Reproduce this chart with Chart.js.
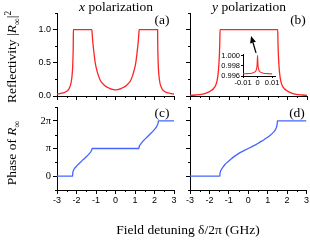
<!DOCTYPE html>
<html><head><meta charset="utf-8">
<script src="https://cdn.jsdelivr.net/npm/chart.js@4.4.0/dist/chart.umd.min.js"></script>
<style>
html,body{margin:0;padding:0;background:#fff;}
#wrap{position:relative;width:310px;height:240px;overflow:hidden;background:#fff;}
canvas{position:absolute;left:0;top:0;width:310px;height:240px;}
.t{position:absolute;font-family:"Liberation Serif","Times New Roman",serif;color:#000;white-space:nowrap;line-height:1;font-size:13.5px;}
.c{transform:translateX(-50%);}
.r{transform:translate(-50%,-50%) rotate(-90deg);}
sub,sup{font-size:70%;line-height:0;}
</style></head><body>
<div id="wrap">
<canvas id="ca" width="310" height="240"></canvas>
<canvas id="cb" width="310" height="240"></canvas>
<canvas id="cc" width="310" height="240"></canvas>
<canvas id="cd" width="310" height="240"></canvas>
<canvas id="ci" width="310" height="240"></canvas>
<div class="t c" style="left:116px;top:0px;"><i>x</i> polarization</div>
<div class="t c" style="left:249px;top:0px;"><i>y</i> polarization</div>
<div class="t c" style="left:162px;top:13px;">(a)</div>
<div class="t c" style="left:298px;top:13px;">(b)</div>
<div class="t c" style="left:162px;top:106px;">(c)</div>
<div class="t c" style="left:297px;top:106px;">(d)</div>
<div class="t r" style="left:12px;top:57px;">Reflectivity |<i>R</i><sub>∞</sub>|<sup>2</sup></div>
<div class="t r" style="left:12px;top:153px;">Phase of <i>R</i><sub>∞</sub></div>
<div class="t c" style="left:188px;top:223px;">Field detuning δ/2π (GHz)</div>
</div>
<script>
// ---- data ----
const detuneTicks = [-3, -2, -1, 0, 1, 2, 3];
const detuneLabels = ['-3', '-2', '-1', '0', '1', '2', '3'];
const detuneMinor = [-2.5, -1.5, -0.5, 0.5, 1.5, 2.5];
const reflTicks = [0, 0.5, 1.0];
const reflLabels = ['0.0', '0.5', '1.0'];
const reflMinor = [0.25, 0.75, 1.25];
const phaseTicks = [0, 1, 2];           // in units of pi
const phaseLabels = ['0', 'π', '2π'];
const phaseMinor = [-0.5, 0.5, 1.5, 2.5];
const insetXTicks = [-0.01, 0, 0.01];
const insetXLabels = ['-0.01', '0', '0.01'];
const insetYTicks = [0.996, 0.998, 1.000];
const insetYLabels = ['0.996', '0.998', '1.000'];

// (a) x polarization reflectivity
const detuneA = [-3, -2.8, -2.6, -2.5, -2.4, -2.35, -2.3, -2.26, -2.23, -2.2, -2.18, -2.165, -2.16, -1.21, -1.2, -1.18, -1.15, -1.1, -1.05, -1.0, -0.9, -0.8, -0.7, -0.6, -0.5, -0.4, -0.3, -0.2, -0.1, 0, 0.1, 0.2, 0.3, 0.4, 0.5, 0.6, 0.7, 0.8, 0.9, 1.0, 1.05, 1.1, 1.15, 1.18, 1.2, 1.21, 2.16, 2.165, 2.18, 2.2, 2.23, 2.26, 2.3, 2.35, 2.4, 2.5, 2.6, 2.8, 3];
const reflA = [0.03, 0.04, 0.055, 0.07, 0.1, 0.13, 0.17, 0.23, 0.3, 0.42, 0.58, 0.8, 1.0, 1.0, 0.95, 0.87, 0.77, 0.64, 0.52, 0.44, 0.33, 0.25, 0.2, 0.17, 0.145, 0.128, 0.115, 0.103, 0.095, 0.092, 0.095, 0.103, 0.115, 0.128, 0.145, 0.17, 0.2, 0.25, 0.33, 0.44, 0.52, 0.64, 0.77, 0.87, 0.95, 1.0, 1.0, 0.8, 0.58, 0.42, 0.3, 0.23, 0.17, 0.13, 0.1, 0.07, 0.055, 0.04, 0.03];

// (b) y polarization reflectivity
const detuneB = [-3, -2.7, -2.4, -2.2, -2.0, -1.9, -1.8, -1.7, -1.62, -1.56, -1.52, -1.49, -1.47, -1.46, 1.5, 1.51, 1.53, 1.56, 1.6, 1.66, 1.74, 1.84, 1.94, 2.04, 2.24, 2.44, 2.74, 3];
const reflB = [0.01, 0.015, 0.025, 0.04, 0.065, 0.085, 0.11, 0.15, 0.22, 0.33, 0.47, 0.64, 0.83, 1.0, 1.0, 0.83, 0.64, 0.47, 0.33, 0.22, 0.15, 0.11, 0.085, 0.065, 0.04, 0.025, 0.015, 0.01];

// inset of (b)
const detuneInset = [-0.01, -0.008, -0.006, -0.004, -0.003, -0.002, -0.0015, -0.001, -0.0006, -0.0003, 0, 0.0003, 0.0006, 0.001, 0.0015, 0.002, 0.003, 0.004, 0.006, 0.008, 0.01];
const reflInset = [0.99642, 0.99645, 0.99648, 0.99655, 0.99662, 0.99675, 0.99688, 0.9971, 0.9975, 0.9982, 1.0, 0.9982, 0.9975, 0.9971, 0.99688, 0.99675, 0.99662, 0.99655, 0.99648, 0.99645, 0.99642];

// (c) x polarization phase (units of pi)
const detuneC = [-3, -2.2, -2.198, -2.19, -2.17, -2.14, -2.1, -2.0, -1.9, -1.8, -1.7, -1.6, -1.5, -1.4, -1.3, -1.25, -1.22, -1.205, -1.2, 1.2, 1.205, 1.22, 1.25, 1.3, 1.4, 1.5, 1.6, 1.7, 1.8, 1.9, 2.0, 2.1, 2.15, 2.18, 2.195, 2.2, 3];
const phaseC = [0, 0, 0.06, 0.12, 0.18, 0.23, 0.28, 0.36, 0.43, 0.5, 0.57, 0.63, 0.7, 0.77, 0.85, 0.9, 0.95, 0.98, 1.0, 1.0, 1.04, 1.08, 1.12, 1.17, 1.26, 1.33, 1.4, 1.47, 1.54, 1.61, 1.69, 1.78, 1.85, 1.91, 1.96, 2.0, 2.0];

// (d) y polarization phase (units of pi)
const detuneD = [-3, -1.46, -1.458, -1.45, -1.43, -1.4, -1.35, -1.3, -1.2, -1.1, -1.0, -0.9, -0.8, -0.6, -0.4, -0.2, 0, 0.2, 0.4, 0.6, 0.8, 1.0, 1.1, 1.2, 1.3, 1.37, 1.42, 1.46, 1.485, 1.495, 1.5, 3];
const phaseD = [0, 0, 0.07, 0.12, 0.17, 0.22, 0.28, 0.33, 0.42, 0.49, 0.55, 0.61, 0.67, 0.77, 0.86, 0.93, 1.0, 1.07, 1.14, 1.23, 1.31, 1.41, 1.46, 1.52, 1.59, 1.65, 1.71, 1.78, 1.87, 1.93, 2.0, 2.0];

// arrow in panel (b), data coordinates
const arrowFrom = [0.385, 0.65];
const arrowTo = [0.13, 0.905];

// ---- drawing ----
const W = 310, H = 240;
const RED = '#ff2424', BLUE = '#4466ff';
const SANS = '"Liberation Sans", Arial, sans-serif';
const SERIF = '"Liberation Serif", "Times New Roman", serif';

const minorTickPlugin = {
  id: 'minorTicks',
  afterDraw(chart, args, opts) {
    const ctx = chart.ctx, a = chart.chartArea;
    const xs = chart.scales.x, ys = chart.scales.y;
    ctx.save(); ctx.strokeStyle = '#000'; ctx.lineWidth = 1;
    (opts.x || []).forEach(v => {
      const p = Math.round(xs.getPixelForValue(v)) + 0.5;
      ctx.beginPath(); ctx.moveTo(p, a.bottom); ctx.lineTo(p, a.bottom + opts.len); ctx.stroke();
    });
    (opts.y || []).forEach(v => {
      const p = Math.round(ys.getPixelForValue(v)) + 0.5;
      ctx.beginPath(); ctx.moveTo(a.left, p); ctx.lineTo(a.left - opts.len, p); ctx.stroke();
    });
    ctx.restore();
  }
};

const arrowPlugin = {
  id: 'arrow',
  afterDraw(chart, args, opts) {
    if (!opts || !opts.from) return;
    const xs = chart.scales.x, ys = chart.scales.y, ctx = chart.ctx;
    const x0 = xs.getPixelForValue(opts.from[0]), y0 = ys.getPixelForValue(opts.from[1]);
    const x1 = xs.getPixelForValue(opts.to[0]), y1 = ys.getPixelForValue(opts.to[1]);
    const ang = Math.atan2(y1 - y0, x1 - x0), L = 7, hw = 3;
    const bx = x1 - L * Math.cos(ang), by = y1 - L * Math.sin(ang);
    ctx.save(); ctx.strokeStyle = '#000'; ctx.fillStyle = '#000'; ctx.lineWidth = 1.3;
    ctx.beginPath(); ctx.moveTo(x0, y0); ctx.lineTo(bx, by); ctx.stroke();
    ctx.beginPath(); ctx.moveTo(x1, y1);
    ctx.lineTo(bx + hw * Math.sin(ang), by - hw * Math.cos(ang));
    ctx.lineTo(bx - hw * Math.sin(ang), by + hw * Math.cos(ang));
    ctx.closePath(); ctx.fill();
    ctx.restore();
  }
};

function build(id, area, o) {
  const yW = o.yW, xH = o.xH;
  return new Chart(document.getElementById(id), {
    type: 'line',
    data: { datasets: [{
      data: o.x.map((x, i) => ({ x: x, y: o.y[i] })),
      borderColor: o.color, borderWidth: o.lw || 1.3, pointRadius: 0,
      cubicInterpolationMode: 'monotone', fill: false
    }] },
    options: {
      responsive: false, animation: false, events: [],
      layout: { padding: { left: area.l - yW, right: W - area.r, top: area.t, bottom: H - area.b - xH } },
      plugins: {
        legend: { display: false }, tooltip: { enabled: false },
        minorTicks: { x: o.xMinor, y: o.yMinor, len: o.minorLen },
        arrow: o.arrow || {}
      },
      scales: {
        x: {
          type: 'linear', min: o.xMin, max: o.xMax,
          afterBuildTicks: s => { s.ticks = o.xTicks.map(v => ({ value: v })); },
          afterFit: s => { s.height = xH; },
          grid: { display: true, drawOnChartArea: false, drawTicks: true, tickLength: o.tickLen, color: '#000', lineWidth: 1 },
          border: { display: true, color: '#000', width: 1 },
          ticks: { display: !!o.xLabels, autoSkip: false, maxRotation: 0, minRotation: 0, padding: o.xPad, color: '#000',
            font: o.xFont, callback: v => o.xLabels ? o.xLabels[o.xTicks.indexOf(v)] : '' }
        },
        y: {
          type: 'linear', min: o.yMin, max: o.yMax,
          afterBuildTicks: s => { s.ticks = o.yTicks.map(v => ({ value: v })); },
          afterFit: s => { s.width = yW; },
          grid: { display: true, drawOnChartArea: false, drawTicks: true, tickLength: o.tickLen, color: '#000', lineWidth: 1 },
          border: { display: true, color: '#000', width: 1 },
          ticks: { display: !!o.yLabels, autoSkip: false, padding: o.yPad, color: '#000',
            font: o.yFont, callback: v => o.yLabels ? o.yLabels[o.yTicks.indexOf(v)] : '' }
        }
      }
    },
    plugins: [minorTickPlugin, arrowPlugin]
  });
}

const tickFont = { family: SANS, size: 9 };
const piFont = { family: SERIF, size: 10.5 };
const common = { xMin: -3, xMax: 3, xTicks: detuneTicks, xMinor: detuneMinor, tickLen: 4, minorLen: 2, xPad: 1, yPad: 2 };

build('ca', { l: 57, r: 174, t: 13, b: 96 }, Object.assign({}, common, {
  yW: 30, xH: 5, x: detuneA, y: reflA, color: RED,
  yMin: 0, yMax: 1.25, yTicks: reflTicks, yLabels: reflLabels, yMinor: reflMinor, yFont: tickFont
}));
build('cb', { l: 190, r: 307, t: 13, b: 96 }, Object.assign({}, common, {
  yW: 5, xH: 5, x: detuneB, y: reflB, color: RED,
  yMin: 0, yMax: 1.25, yTicks: reflTicks, yMinor: reflMinor, yFont: tickFont,
  arrow: { from: arrowFrom, to: arrowTo }
}));
build('cc', { l: 57, r: 174, t: 107, b: 190 }, Object.assign({}, common, {
  yW: 30, xH: 20, x: detuneC, y: phaseC, color: BLUE, xLabels: detuneLabels, xFont: tickFont,
  yMin: -0.5, yMax: 2.5, yTicks: phaseTicks, yLabels: phaseLabels, yMinor: phaseMinor, yFont: piFont
}));
build('cd', { l: 190, r: 307, t: 107, b: 190 }, Object.assign({}, common, {
  yW: 5, xH: 20, x: detuneD, y: phaseD, color: BLUE, xLabels: detuneLabels, xFont: tickFont,
  yMin: -0.5, yMax: 2.5, yTicks: phaseTicks, yMinor: phaseMinor, yFont: piFont
}));
build('ci', { l: 243, r: 275, t: 54, b: 76 }, {
  yW: 25, xH: 12, x: detuneInset, y: reflInset, color: RED, lw: 1.1,
  xMin: -0.01, xMax: 0.012, xTicks: insetXTicks, xLabels: insetXLabels, xMinor: [], xFont: { family: SANS, size: 7.5 },
  yMin: 0.996, yMax: 1.0003, yTicks: insetYTicks, yLabels: insetYLabels, yMinor: [], yFont: { family: SANS, size: 7.5 },
  tickLen: 2, minorLen: 1, xPad: 0, yPad: 1
});
</script>
</body></html>
